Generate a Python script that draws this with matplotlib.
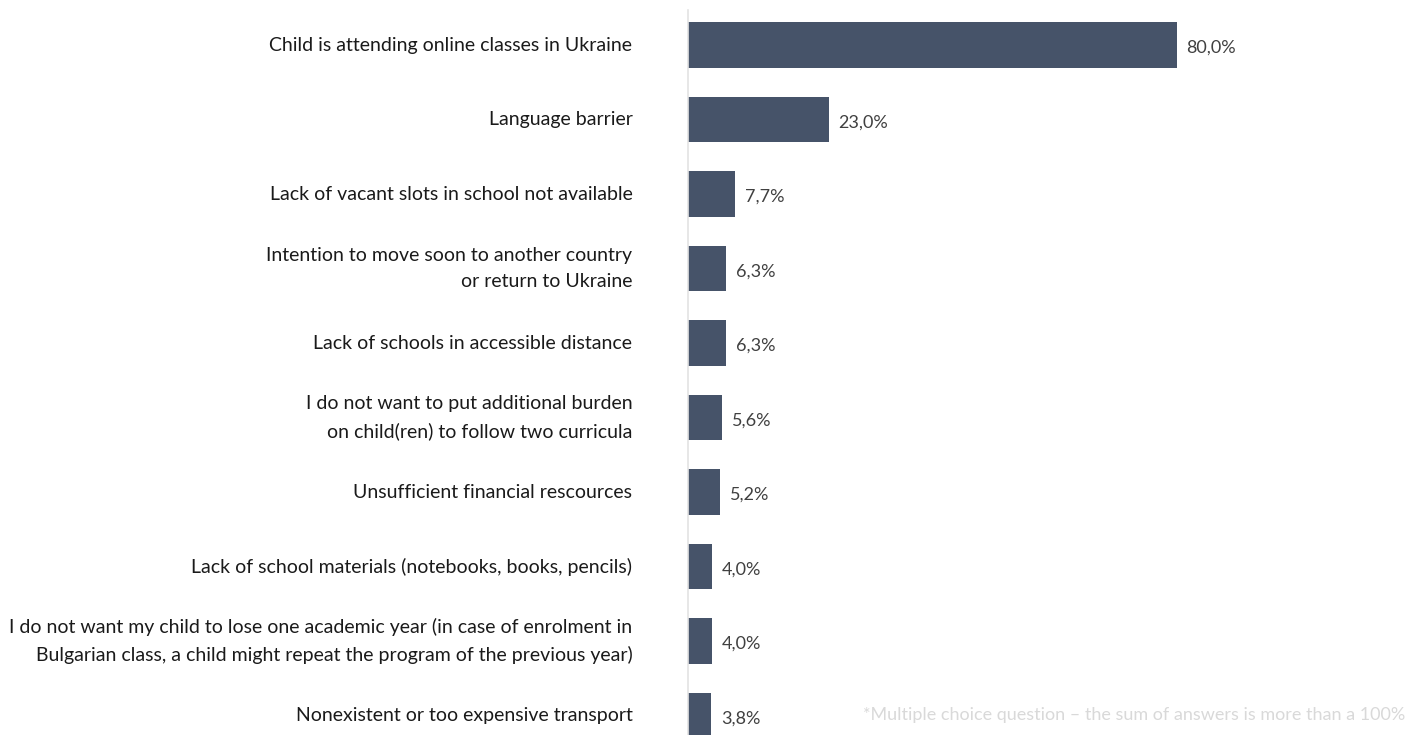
import matplotlib.pyplot as plt

plt.rcParams['font.family'] = ['Lato', 'DejaVu Sans']

reasons = [
    "Child is attending online classes in Ukraine",
    "Language barrier",
    "Lack of vacant slots in school not available",
    "Intention to move soon to another country\nor return to Ukraine",
    "Lack of schools in accessible distance",
    "I do not want to put additional burden\non child(ren) to follow two curricula",
    "Unsufficient financial rescources",
    "Lack of school materials (notebooks, books, pencils)",
    "I do not want my child to lose one academic year (in case of enrolment in\nBulgarian class, a child might repeat the program of the previous year)",
    "Nonexistent or too expensive transport",
]
shares = [80.0, 23.0, 7.7, 6.3, 6.3, 5.6, 5.2, 4.0, 4.0, 3.8]
footnote = "*Multiple choice question \u2013 the sum of answers is more than a 100%"

bar_color = "#465369"

fig = plt.figure(figsize=(14.08, 7.35), dpi=100)
# axes from the baseline to the right edge
ax = fig.add_axes([688 / 1408, 0, 720 / 1408, 725 / 735])

pos = list(range(len(shares)))
ax.barh(pos, shares, height=0.61, color=bar_color)
ax.set_xlim(0, 720 / 6.11)
ax.set_ylim(9.26, -0.47)

for y, v in zip(pos, shares):
    ax.text(v + 1.6, y + 0.04, f"{v:.1f}".replace(".", ",") + "%",
            va="center", ha="left", fontsize=13, color="#404040")

for y, lab in zip(pos, reasons):
    ax.annotate(lab, xy=(0, y), xytext=(-40, 0), textcoords="offset points",
                ha="right", va="center", fontsize=14, color="#1a1a1a",
                multialignment="right", linespacing=1.7, annotation_clip=False)

ax.set_xticks([])
ax.set_yticks([])
for s in ["top", "right", "bottom"]:
    ax.spines[s].set_visible(False)
ax.spines["left"].set_color("#e3e3e3")
ax.spines["left"].set_linewidth(1.2)

fig.text(1405 / 1408, 1 - 715 / 735, footnote, ha="right", va="center",
         fontsize=13, color="#d9d9d9")

fig.savefig("out.png", dpi=100)
